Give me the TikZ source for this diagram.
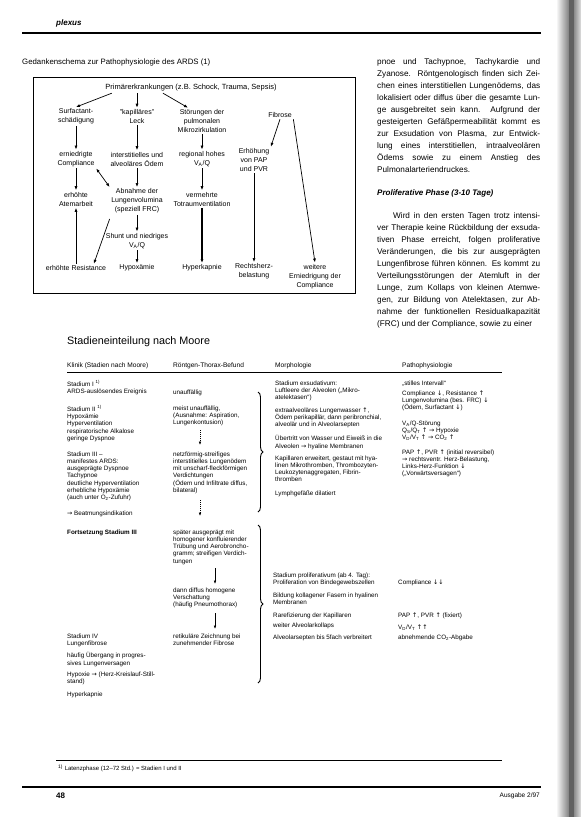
\documentclass[tikz,border=0pt]{standalone}
\usepackage{fontspec}
\setmainfont{Liberation Sans}
\newfontfamily\symf{DejaVu Sans}
\usetikzlibrary{arrows.meta,decorations.pathreplacing}
\newcommand\aup{{\symf ↑}}
\newcommand\adn{{\symf ↓}}
\newcommand\arr{{\symf →}}
\begin{document}
\begin{tikzpicture}[x=1pt,y=-1pt,
 fl/.style={font=\fontsize{7}{9}\selectfont,align=center,inner sep=1.5pt},
 arr/.style={-{Latex[length=4pt,width=3pt]},line width=0.7pt},
 dbl/.style={{Latex[length=4pt,width=3pt]}-{Latex[length=4pt,width=3pt]},line width=0.7pt},
 tb/.style={font=\fontsize{6.3}{7.2}\selectfont,align=left,anchor=north west,inner sep=0pt},
 th/.style={font=\fontsize{6.6}{7.2}\selectfont,anchor=north west,inner sep=0pt},
 body/.style={font=\fontsize{8.2}{12}\selectfont,text width=163pt,align=justify,anchor=north west,inner sep=0pt},
 brc/.style={decorate,decoration={brace,amplitude=5pt},line width=0.9pt},
 tarr/.style={-{Latex[length=3.5pt,width=2.6pt]},line width=0.6pt},
 tdash/.style={tarr,dash pattern=on 1pt off 1pt}
]
\useasboundingbox (0,0) rectangle (581,817);
\fill[white] (0,0) rectangle (581,817);
% binding shadow
\shade[left color=white,right color=black!50] (556,0) rectangle (569,817);
\fill[black!62] (569,0) rectangle (574,817);
\shade[left color=black!45,right color=black!12] (574,0) rectangle (581,817);

% page header
\node[font=\fontsize{8}{9}\selectfont\bfseries\itshape,anchor=west,inner sep=0pt] (plexus) at (56,23) {plexus};
\draw[line width=1.2pt] (22,33) -- (541,33);

% caption and box
\node[font=\fontsize{7.8}{9}\selectfont,anchor=west,inner sep=0pt] (cap) at (22,62) {Gedankenschema zur Pathophysiologie des ARDS (1)};
\draw[line width=0.7pt] (33,77) rectangle (355,293);

% flow chart nodes
\node[fl,font=\fontsize{7.5}{9}\selectfont] (prim) at (191,88) {Primärerkrankungen (z.B. Schock, Trauma, Sepsis)};
\node[fl] (surf) at (76,116.5) {Surfactant-\\schädigung};
\node[fl] (leck) at (137,116.5) {"kapilläres"\\Leck};
\node[fl] (stoer) at (202,121) {Störungen der\\pulmonalen\\Mikrozirkulation};
\node[fl] (fib) at (280,115) {Fibrose};
\node[fl] (compl) at (76,159) {erniedrigte\\Compliance};
\node[fl] (oedem) at (137,159) {interstitielles und\\alveoläres Ödem};
\node[fl] (vaq) at (202,159) {regional hohes\\V\textsubscript{A}/Q};
\node[fl] (pap) at (254,160) {Erhöhung\\von PAP\\und PVR};
\node[fl] (atem) at (76,199) {erhöhte\\Atemarbeit};
\node[fl] (abn) at (137,201) {Abnahme der\\Lungenvolumina\\(speziell FRC)};
\node[fl] (tot) at (202,199) {vermehrte\\Totraumventilation};
\node[fl] (shunt) at (137,241) {Shunt und niedriges\\V\textsubscript{A}/Q};
\node[fl] (hypox) at (137,268) {Hypoxämie};
\node[fl] (resist) at (76,268) {erhöhte Resistance};
\node[fl] (hyperk) at (202,268) {Hyperkapnie};
\node[fl] (rechts) at (254,271.5) {Rechtsherz-\\belastung};
\node[fl] (weit) at (315,276.5) {weitere\\Erniedrigung der\\Compliance};

% flow chart arrows
\draw[arr] ([xshift=8pt]prim.south west) -- (surf.north);
\draw[arr] (leck.north |- prim.south) -- (leck.north);
\draw[arr] ([xshift=-28pt]prim.south) -- ([xshift=-14pt]stoer.north);
\draw[arr] (surf) -- (compl);
\draw[arr] (leck) -- (oedem);
\draw[arr] (stoer) -- (vaq);
\draw[arr] (fib.south) -- (pap.north east);
\draw[arr] (fib.south east) -- (weit.north);
\draw[arr] (compl) -- (atem);
\draw[arr] (oedem) -- (abn);
\draw[arr] (vaq) -- (tot);
\draw[dbl] (compl.south east) -- (abn.north west);
\draw[arr] (abn) -- (shunt);
\draw[arr] ([yshift=-4pt]abn.south west) -- ([xshift=-14pt]resist.north east);
\draw[arr] (shunt) -- (hypox);
\draw[arr] (resist) -- (atem);
\draw[arr,line width=1.3pt] (tot) -- (hyperk);
\draw[arr] (pap) -- (rechts);

% right column text
\node[body] (b1) at (377,58.2) {pnoe und Tachypnoe, Tachykardie und\linebreak
Zyanose. Röntgenologisch finden sich Zei-\linebreak
chen eines interstitiellen Lungenödems, das\linebreak
lokalisiert oder diffus über die gesamte Lun-\linebreak
ge ausgebreitet sein kann. Aufgrund der\linebreak
gesteigerten Gefäßpermeabilität kommt es\linebreak
zur Exsudation von Plasma, zur Entwick-\linebreak
lung eines interstitiellen, intraalveolären\linebreak
Ödems sowie zu einem Anstieg des\linebreak
Pulmonalarteriendruckes.};
\node[font=\fontsize{8}{9}\selectfont\bfseries\itshape,anchor=west,inner sep=0pt] (prolif) at (377,193) {Proliferative Phase (3-10 Tage)};
\node[body] (b2) at (377,212.2) {\parfillskip=0pt\hspace*{16pt}Wird in den ersten Tagen trotz intensi-\linebreak
ver Therapie keine Rückbildung der exsuda-\linebreak
tiven Phase erreicht, folgen proliferative\linebreak
Veränderungen, die bis zur ausgeprägten\linebreak
Lungenfibrose führen können. Es kommt zu\linebreak
Verteilungsstörungen der Atemluft in der\linebreak
Lunge, zum Kollaps von kleinen Atemwe-\linebreak
gen, zur Bildung von Atelektasen, zur Ab-\linebreak
nahme der funktionellen Residualkapazität\linebreak
(FRC) und der Compliance, sowie zu einer};

% table title and header
\node[font=\fontsize{10.8}{12}\selectfont,anchor=west,inner sep=0pt] (title) at (67,342) {Stadieneinteilung nach Moore};
\node[th] (h1) at (67,362.5) {Klinik (Stadien nach Moore)};
\node[th] (h2) at (173,362.5) {Röntgen-Thorax-Befund};
\node[th] (h3) at (275,362.5) {Morphologie};
\node[th] (h4) at (402,362.5) {Pathophysiologie};
\draw[line width=0.7pt] (67,372) -- (502,372);

% column 1
\node[tb] (k1) at (67,380.5) {Stadium I \textsuperscript{1)}\\ARDS-auslösendes Ereignis};
\node[tb] (k2) at (67,405.5) {Stadium II \textsuperscript{1)}\\Hypoxämie\\Hyperventilation\\respiratorische Alkalose\\geringe Dyspnoe};
\node[tb] (k3) at (67,451.5) {Stadium III –\\manifestes ARDS:\\ausgeprägte Dyspnoe\\Tachypnoe\\deutliche Hyperventilation\\erhebliche Hypoxämie\\(auch unter O\textsubscript{2}-Zufuhr)};
\node[tb] (k4) at (67,510.5) {\arr{} Beatmungsindikation};
\node[tb,font=\fontsize{6.3}{7.2}\selectfont\bfseries] (k5) at (67,529.5) {Fortsetzung Stadium III};
\node[tb] (k6) at (67,633.5) {Stadium IV\\Lungenfibrose};
\node[tb] (k7) at (67,652.5) {häufig Übergang in progres-\\sives Lungenversagen};
\node[tb] (k8) at (67,671.5) {Hypoxie \arr{} (Herz-Kreislauf-Still-\\stand)};
\node[tb] (k9) at (67,691.5) {Hyperkapnie};

% column 2
\node[tb] (r1) at (173,389.5) {unauffällig};
\node[tb] (r2) at (173,405.5) {meist unauffällig,\\(Ausnahme: Aspiration,\\Lungenkontusion)};
\node[tb] (r3) at (173,451.5) {netzförmig-streifiges\\interstitielles Lungenödem\\mit unscharf-fleckförmigen\\Verdichtungen\\(Ödem und Infiltrate diffus,\\bilateral)};
\node[tb] (r4) at (173,529.5) {später ausgeprägt mit\\homogener konfluierender\\Trübung und Aerobroncho-\\gramm; streifigen Verdich-\\tungen};
\node[tb] (r5) at (173,587.5) {dann diffus homogene\\Verschattung\\(häufig Pneumothorax)};
\node[tb] (r6) at (173,633.5) {retikuläre Zeichnung bei\\zunehmender Fibrose};
\coordinate (d1a) at (200,430); \coordinate (d1b) at (200,445);
\coordinate (d2a) at (200,500); \coordinate (d2b) at (200,516);
\coordinate (s1a) at (215,568); \coordinate (s1b) at (215,584);
\coordinate (s2a) at (215,613); \coordinate (s2b) at (215,629);
\draw[tdash] (d1a) -- (d1b);
\draw[tdash] (d2a) -- (d2b);
\draw[tarr] (s1a) -- (s1b);
\draw[tarr] (s2a) -- (s2b);

% braces
\draw[brc] (258,392) -- (258,512);
\draw[brc] (258,525) -- (258,683);

% column 3
\node[tb] (m1) at (275,380.5) {Stadium exsudativum:\\Luftleere der Alveolen („Mikro-\\atelektasen“)};
\node[tb] (m2) at (275,407.5) {extraalveoläres Lungenwasser \aup,\\Ödem perikapillär, dann peribronchial,\\alveolär und in Alveolarsepten};
\node[tb] (m3) at (275,435.5) {Übertritt von Wasser und Eiweiß in die\\Alveolen \arr{} hyaline Membranen};
\node[tb] (m4) at (275,455.5) {Kapillaren erweitert, gestaut mit hya-\\linen Mikrothromben, Thrombozyten-\\Leukozytenaggregaten, Fibrin-\\thromben};
\node[tb] (m5) at (275,490.5) {Lymphgefäße dilatiert};
\node[tb] (m6) at (273,572.5) {Stadium proliferativum (ab 4. Tag):\\Proliferation von Bindegewebszellen};
\node[tb] (m7) at (273,592.5) {Bildung kollagener Fasern in hyalinen\\Membranen};
\node[tb] (m8) at (273,612.5) {Rarefizierung der Kapillaren};
\node[tb] (m9) at (273,622.5) {weiter Alveolarkollaps};
\node[tb] (m10) at (273,634.5) {Alveolarsepten bis 5fach verbreitert};

% column 4
\node[tb] (p1) at (402,380.5) {„stilles Intervall“};
\node[tb] (p2) at (402,390.5) {Compliance \adn, Resistance \aup\\Lungenvolumina (bes. FRC) \adn\\(Ödem, Surfactant \adn)};
\node[tb] (p3) at (402,420.5) {V\textsubscript{A}/Q-Störung\\Q\textsubscript{S}/Q\textsubscript{T} \aup{} \arr{} Hypoxie\\V\textsubscript{D}/V\textsubscript{T} \aup{} \arr{} CO\textsubscript{2} \aup};
\node[tb] (p4) at (402,449.5) {PAP \aup, PVR \aup{} (initial reversibel)\\\arr{} rechtsventr. Herz-Belastung,\\Links-Herz-Funktion \adn\\(„Vorwärtsversagen“)};
\node[tb] (p5) at (398,579.5) {Compliance \adn\adn};
\node[tb] (p6) at (398,612.5) {PAP \aup, PVR \aup{} (fixiert)};
\node[tb] (p7) at (398,624.5) {V\textsubscript{D}/V\textsubscript{T} \aup\aup};
\node[tb] (p8) at (398,634.5) {abnehmende CO\textsubscript{2}-Abgabe};

% footnote and footer
\draw[line width=0.4pt] (56,760) -- (502,760);
\node[tb,font=\fontsize{6}{7}\selectfont] (fn) at (58,764.5) {\textsuperscript{1)} Latenzphase (12–72 Std.) = Stadien I und II};
\draw[line width=1.2pt] (22,787) -- (541,787);
\node[font=\fontsize{8}{9}\selectfont\bfseries,anchor=west,inner sep=0pt] (pg) at (56,796) {48};
\node[font=\fontsize{6.5}{8}\selectfont,anchor=east,inner sep=0pt] (ausg) at (540,796) {Ausgabe 2/97};
\end{tikzpicture}
\end{document}
